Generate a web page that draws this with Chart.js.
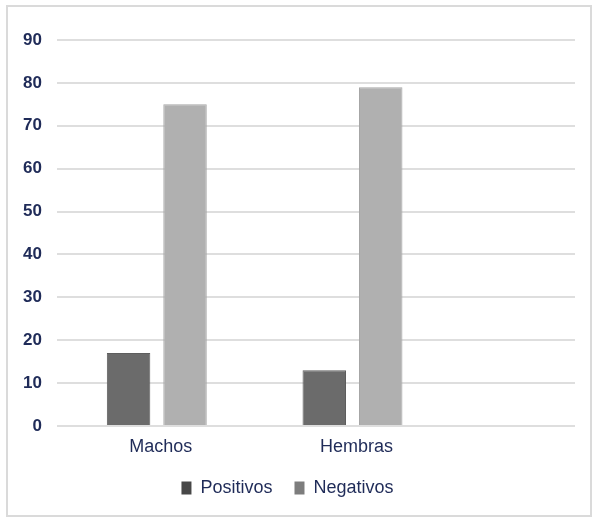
<!DOCTYPE html>
<html>
<head>
<meta charset="utf-8">
<script src="https://cdn.jsdelivr.net/npm/chart.js@4.4.0/dist/chart.umd.min.js"></script>
<style>
  body { margin: 0; background: #fff; }
  #wrap { position: relative; width: 600px; height: 524px; }
  #marco { position: absolute; left: 6px; top: 5px; width: 582px; height: 508px; border: 2px solid #dadada; pointer-events: none; }
</style>
</head>
<body>
<div id="wrap">
  <canvas id="grafico" width="600" height="524"></canvas>
  <div id="marco"></div>
</div>
<script>
const categorias = ['Machos', 'Hembras'];
const positivos = [17, 13];
const negativos = [75, 79];
const ejeYMin = 0;
const ejeYMax = 90;
const ejeYPaso = 10;

const fuente = '"Liberation Sans", Arial, sans-serif';
const colorTexto = '#1f2b58';
const coloresLeyenda = ['#474747', '#7d7d7d'];

const ctx = document.getElementById('grafico').getContext('2d');

new Chart(ctx, {
    type: 'bar',
    data: {
        datasets: [
            { label: 'Positivos', data: positivos.map((v, i) => ({ x: i, y: v })), backgroundColor: '#6b6b6b', borderColor: '#5e5e5e', borderWidth: 1 },
            { label: 'Negativos', data: negativos.map((v, i) => ({ x: i, y: v })), backgroundColor: '#b0b0b0', borderColor: '#a6a6a6', borderWidth: 1 }
        ]
    },
    options: {
        responsive: false,
        animation: false,
        categoryPercentage: 0.577,
        barPercentage: 0.77,
        layout: { padding: { top: 40, right: 25, bottom: 17, left: 0 } },
        scales: {
            x: {
                type: 'linear',
                offset: false,
                min: -0.51,
                max: 2.137,
                grid: { display: false },
                border: { display: false },
                afterBuildTicks: (scale) => { scale.ticks = categorias.map((c, i) => ({ value: i })); },
                afterFit: (scale) => { scale.height = 31; },
                ticks: {
                    callback: (v) => categorias[v],
                    padding: 2,
                    labelOffset: 4,
                    maxRotation: 0,
                    autoSkip: false,
                    color: colorTexto,
                    font: { family: fuente, size: 18 }
                }
            },
            y: {
                min: ejeYMin,
                max: ejeYMax,
                grid: { color: '#dedede', lineWidth: 2, drawTicks: false },
                border: { display: false },
                afterFit: (scale) => { scale.width = 57; },
                ticks: {
                    stepSize: ejeYPaso,
                    padding: 15,
                    color: colorTexto,
                    font: { family: fuente, size: 17, weight: 'bold' }
                }
            }
        },
        plugins: {
            tooltip: { enabled: false },
            legend: {
                position: 'bottom',
                labels: {
                    boxWidth: 10,
                    boxHeight: 13,
                    padding: 22,
                    color: colorTexto,
                    font: { family: fuente, size: 18 },
                    generateLabels: (chart) => chart.data.datasets.map((d, i) => ({
                        text: d.label,
                        fillStyle: coloresLeyenda[i],
                        strokeStyle: coloresLeyenda[i],
                        lineWidth: 0,
                        fontColor: colorTexto,
                        datasetIndex: i
                    }))
                }
            }
        }
    }
});
</script>
</body>
</html>
